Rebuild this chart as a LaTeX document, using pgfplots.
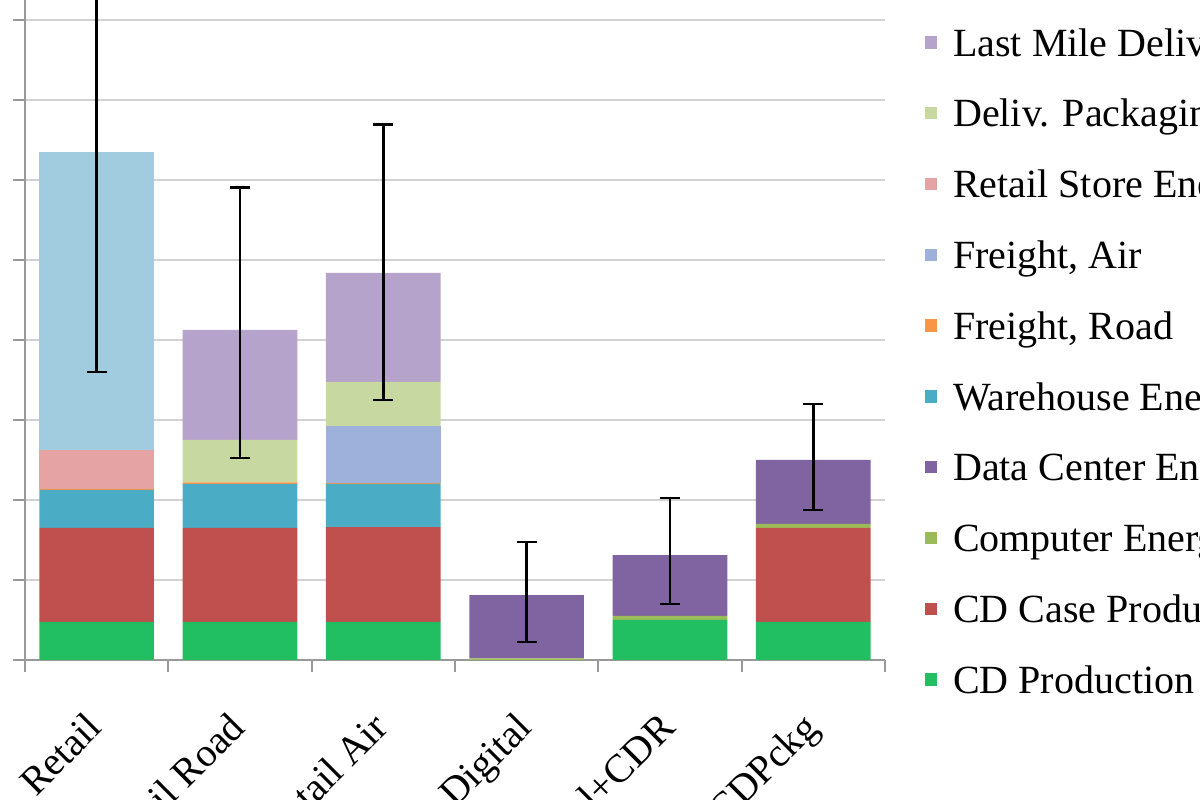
\documentclass[border=0pt]{standalone}
\usepackage{fontspec}
\setmainfont{Liberation Serif}
\usepackage{pgfplots}
\usepackage{pgfplotstable}
\pgfplotsset{compat=1.18}
\definecolor{cdprod}{HTML}{22BE62}
\definecolor{cdcase}{HTML}{C0504D}
\definecolor{comp}{HTML}{9BBB59}
\definecolor{datac}{HTML}{8064A2}
\definecolor{wareh}{HTML}{4BACC6}
\definecolor{froad}{HTML}{F79646}
\definecolor{fair}{HTML}{9EB1DA}
\definecolor{rstore}{HTML}{E6A3A3}
\definecolor{dpack}{HTML}{C7D9A1}
\definecolor{lastm}{HTML}{B5A3CC}
\definecolor{custt}{HTML}{A1CCE0}

% columns: x, CD Production, CD Case, Computer, Data Center, Warehouse, Freight Road, Freight Air, Retail Store, Deliv Pack, Last Mile, Customer Transport
\pgfplotstableread{
x cdp cdc comp dc wh fr fa rs dp lm ct
0 0.475 1.175 0.00 0.00 0.475 0.015 0.00 0.485 0.00 0.000 3.725
1 0.475 1.175 0.00 0.00 0.550 0.02 0.00 0.00 0.53 1.375 0.000
2 0.475 1.185 0.00 0.00 0.540 0.01 0.715 0.00 0.55 1.365 0.000
3 0.000 0.000 0.02 0.79 0.000 0.00 0.00 0.00 0.00 0.000 0.000
4 0.500 0.000 0.05 0.76 0.000 0.00 0.00 0.00 0.00 0.000 0.000
5 0.475 1.175 0.05 0.80 0.000 0.00 0.00 0.00 0.00 0.000 0.000
}\bars

\pgfplotstableread{
x y ep em
0 6.35 2.75 2.75
1 4.125 1.785 1.60
2 4.84 1.85 1.59
3 0.81 0.665 0.585
4 1.31 0.715 0.61
5 2.50 0.70 0.625
}\errs

\begin{document}
\begin{tikzpicture}
\useasboundingbox (-6.25pt,-35pt) rectangle (293.75pt,165pt);
\clip (-6.25pt,-35pt) rectangle (293.75pt,165pt);
\begin{axis}[
  at={(0pt,0pt)}, anchor=south west,
  scale only axis, width=215pt, height=180pt,
  xmin=-0.5, xmax=5.5, ymin=0, ymax=9,
  ybar stacked, bar width=0.8,
  xtick={-0.5,0.5,...,5.5},
  x tick label as interval,
  xticklabels={Retail, E-tail Road, E-tail Air, Digital, Digital+CDR, Digital+CDPckg},
  xticklabel style={rotate=45, anchor=north east, font=\fontsize{10}{12}\selectfont, xshift=-5.5pt, yshift=-1pt},
  ytick={0,...,9}, yticklabels={},
  tick align=outside, major tick length=3pt,
  tick style={draw=gray!80, line width=0.5pt},
  ymajorgrids, grid style={gray!35, line width=0.5pt},
  axis x line*=bottom, axis y line*=left,
  axis line style={gray!80, line width=0.5pt, -},
  legend cell align=left,
  reverse legend,
  legend style={at={(1.04535,-0.0586)}, anchor=south west, draw=none, fill=none,
    inner sep=0pt, row sep=8.7pt, column sep=4pt,
    font=\fontsize{10}{12}\selectfont,
    nodes={inner sep=0pt, text height=7pt, text depth=2pt}},
  legend image code/.code={\fill[#1] (0pt,-0.6pt) rectangle (3.1pt,2.5pt);},
]
\addplot[fill=cdprod, draw=none] table[x=x,y=cdp] {\bars}; \addlegendentry{CD Production}
\addplot[fill=cdcase, draw=none] table[x=x,y=cdc] {\bars}; \addlegendentry{CD Case Production}
\addplot[fill=comp, draw=none] table[x=x,y=comp] {\bars}; \addlegendentry{Computer Energy}
\addplot[fill=datac, draw=none] table[x=x,y=dc] {\bars}; \addlegendentry{Data Center Energy}
\addplot[fill=wareh, draw=none] table[x=x,y=wh] {\bars}; \addlegendentry{Warehouse Energy}
\addplot[fill=froad, draw=none] table[x=x,y=fr] {\bars}; \addlegendentry{Freight, Road}
\addplot[fill=fair, draw=none] table[x=x,y=fa] {\bars}; \addlegendentry{Freight, Air}
\addplot[fill=rstore, draw=none] table[x=x,y=rs] {\bars}; \addlegendentry{Retail Store Energy}
\addplot[fill=dpack, draw=none] table[x=x,y=dp] {\bars}; \addlegendentry{Deliv. Packaging}
\addplot[fill=lastm, draw=none] table[x=x,y=lm] {\bars}; \addlegendentry{Last Mile Delivery}
\addplot[fill=custt, draw=none] table[x=x,y=ct] {\bars}; \addlegendentry{Customer Transport}
\end{axis}
\begin{axis}[
  at={(0pt,0pt)}, anchor=south west,
  scale only axis, width=215pt, height=180pt,
  xmin=-0.5, xmax=5.5, ymin=0, ymax=9,
  hide axis,
]
\addplot[draw=none, mark=none,
  error bars/.cd, y dir=both, y explicit,
  error bar style={draw=black, line width=0.7pt},
  error mark options={rotate=90, mark size=2.5pt, line width=0.7pt, draw=black}]
  table[x=x, y=y, y error plus=ep, y error minus=em] {\errs};
\end{axis}
\end{tikzpicture}
\end{document}
